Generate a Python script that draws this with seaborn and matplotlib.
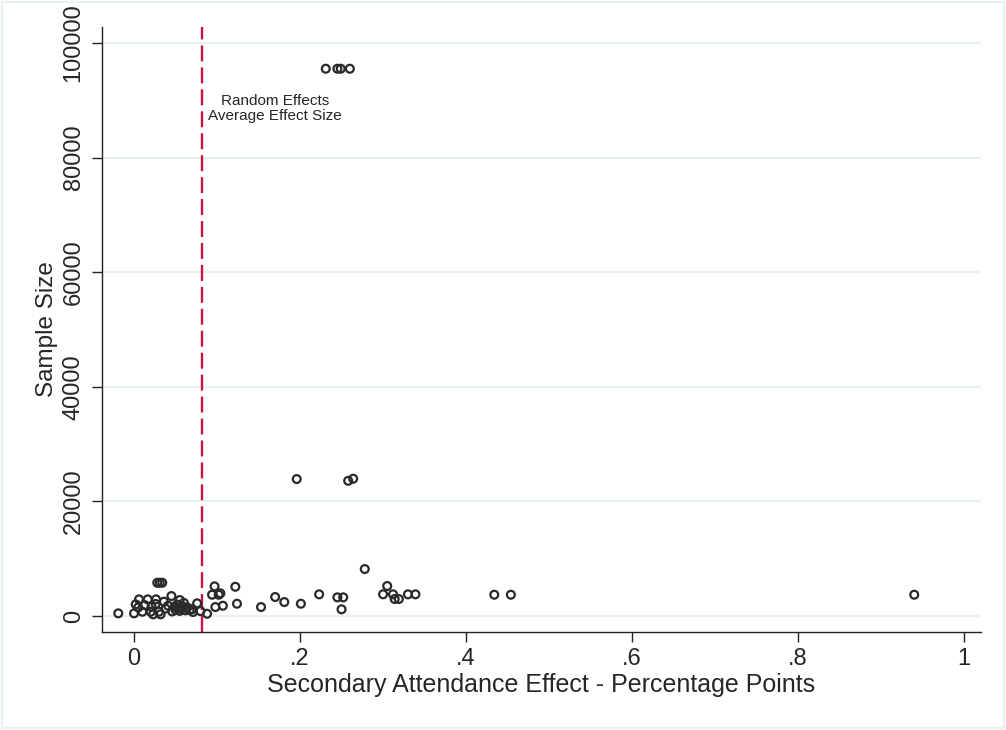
import matplotlib
matplotlib.use("Agg")
import matplotlib.pyplot as plt
import seaborn as sns
import pandas as pd
from matplotlib.patches import Rectangle

# Study-level estimates: effect on secondary attendance (percentage points) and sample size
effect = [
    -0.019, 0.000, 0.002, 0.006, 0.005, 0.010, 0.013, 0.0165, 0.020, 0.021,
    0.023, 0.0265, 0.026, 0.028, 0.031, 0.034, 0.030, 0.032, 0.036, 0.038,
    0.041, 0.045, 0.046, 0.049, 0.050, 0.052, 0.053, 0.055, 0.055, 0.057,
    0.058, 0.060, 0.062, 0.064, 0.067, 0.070, 0.071, 0.076, 0.080, 0.088,
    0.094, 0.097, 0.098, 0.102, 0.104, 0.107, 0.122, 0.124, 0.153, 0.170,
    0.181, 0.201, 0.223, 0.245, 0.252, 0.250, 0.278, 0.300, 0.305, 0.312,
    0.314, 0.319, 0.330, 0.339, 0.434, 0.454, 0.940,
    0.196, 0.258, 0.264,
    0.231, 0.245, 0.249, 0.260,
]
sample_size = [
    470, 470, 2040, 2910, 1500, 750, 1900, 2910, 750, 1620,
    300, 2910, 2100, 5810, 5810, 5810, 750, 300, 2500, 1300,
    1800, 3490, 800, 1620, 1100, 2000, 1400, 2790, 900, 1250,
    1700, 2300, 1000, 1500, 1050, 1200, 700, 2220, 870, 400,
    3720, 5180, 1570, 3720, 3960, 1800, 5110, 2150, 1570, 3320,
    2440, 2150, 3790, 3260, 3260, 1170, 8200, 3790, 5240, 3790,
    2970, 2970, 3790, 3790, 3720, 3720, 3720,
    23900, 23600, 23960,
    95500, 95500, 95500, 95500,
]
average_effect = 0.0823

x_ticks = [0, 0.2, 0.4, 0.6, 0.8, 1.0]
x_tick_labels = ["0", ".2", ".4", ".6", ".8", "1"]
y_ticks = [0, 20000, 40000, 60000, 80000, 100000]
y_tick_labels = ["0", "20000", "40000", "60000", "80000", "100000"]

df = pd.DataFrame({"effect": effect, "n": sample_size})

sns.set_style("white")
plt.rcParams["font.family"] = ["Liberation Sans", "DejaVu Sans"]
plt.rcParams["lines.scale_dashes"] = False

grid_col = "#e9f0f2"

fig = plt.figure(figsize=(10.06, 7.30), dpi=100)
fig.patch.set_facecolor("white")
fig.patches.append(Rectangle((0.002, 0.003), 0.996, 0.994, transform=fig.transFigure,
                             fill=False, edgecolor=grid_col, linewidth=1.6))

ax = fig.add_axes([0.1014, 0.1342, 0.8738, 0.8288])

for yv in y_ticks:
    ax.axhline(yv, color=grid_col, linewidth=1.6, zorder=0)

ax.axvline(average_effect, color="#c9143f", linewidth=1.7,
           linestyle=(0, (11.5, 4.3)), zorder=1)

sns.scatterplot(data=df, x="effect", y="n", ax=ax, marker="o", s=32,
                facecolor="none", edgecolor="#2a2a2a", linewidth=1.6, zorder=3)

ax.text(0.170, 89870, "Random Effects", ha="center", va="center", fontsize=11)
ax.text(0.170, 87250, "Average Effect Size", ha="center", va="center", fontsize=11)

ax.set_xlim(-0.0386, 1.0205)
ax.set_ylim(-2790, 102780)

ax.set_xticks(x_ticks)
ax.set_xticklabels(x_tick_labels, fontsize=17)
ax.set_yticks(y_ticks)
ax.set_yticklabels(y_tick_labels, fontsize=17, rotation=90, va="center")

ax.tick_params(axis="both", which="major", direction="out", length=7.5, width=1.0,
               color="#222222", bottom=True, left=True)
ax.tick_params(axis="x", pad=4)
ax.tick_params(axis="y", pad=5)

for side in ["top", "right"]:
    ax.spines[side].set_visible(False)
for side in ["left", "bottom"]:
    ax.spines[side].set_color("#222222")
    ax.spines[side].set_linewidth(1.0)

ax.set_xlabel("Secondary Attendance Effect - Percentage Points", fontsize=18, labelpad=2)
ax.set_ylabel("Sample Size", fontsize=17.5, labelpad=3)

fig.savefig("out.png", dpi=100)
